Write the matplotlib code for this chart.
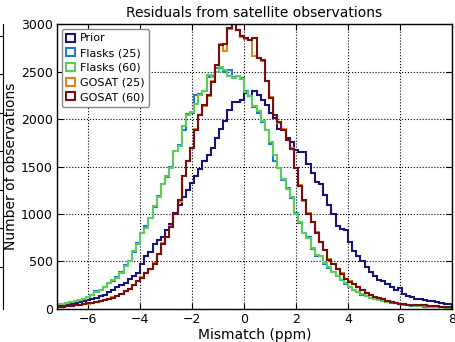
import numpy as np
import matplotlib
matplotlib.use('Agg')
import matplotlib.pyplot as plt

# bins: 0.16 ppm wide, from -7.2 to 8
edges = np.linspace(-7.2, 8.0, 96)
centers = 0.5 * (edges[:-1] + edges[1:])

prior = [40, 45, 50, 55, 60, 70, 80, 95, 105, 120,
         135, 150, 180, 200, 230, 250, 270, 320, 350, 380,
         470, 560, 600, 680, 730, 760, 830, 900, 1010, 1090,
         1180, 1250, 1330, 1400, 1470, 1560, 1620, 1700, 1800, 1900,
         1980, 2100, 2180, 2180, 2200, 2270, 2240, 2290, 2250, 2200,
         2150, 2060, 2010, 1900, 1880, 1800, 1760, 1675, 1650, 1650,
         1530, 1430, 1340, 1320, 1200, 1100, 1000, 870, 840, 830,
         700, 610, 560, 510, 440, 390, 345, 310, 295, 260,
         235, 200, 220, 160, 140, 125, 110, 100, 95, 85,
         80, 72, 65, 55, 50]

flasks25 = [48, 55, 60, 72, 85, 92, 100, 128, 150, 190,
            195, 235, 270, 295, 335, 385, 460, 510, 600, 690,
            800, 870, 960, 1070, 1190, 1320, 1390, 1490, 1660, 1730,
            1880, 2050, 2060, 2250, 2260, 2300, 2440, 2450, 2540, 2540,
            2500, 2520, 2440, 2450, 2430, 2300, 2240, 2130, 2060, 1970,
            1880, 1740, 1560, 1480, 1360, 1270, 1170, 1010, 910, 800,
            760, 630, 560, 560, 470, 430, 390, 345, 310, 260,
            230, 195, 175, 150, 135, 118, 105, 95, 82, 75,
            68, 60, 52, 45, 40, 36, 33, 30, 26, 24,
            22, 19, 17, 15, 13]

flasks60 = [50, 55, 62, 70, 85, 90, 100, 125, 150, 180,
            195, 230, 270, 300, 330, 380, 450, 510, 610, 680,
            800, 850, 960, 1080, 1180, 1320, 1400, 1480, 1660, 1720,
            1930, 2040, 2070, 2160, 2250, 2290, 2460, 2440, 2500, 2550,
            2520, 2450, 2430, 2450, 2420, 2280, 2240, 2140, 2080, 1980,
            1880, 1760, 1620, 1480, 1370, 1260, 1180, 1000, 920, 800,
            750, 640, 570, 560, 480, 440, 390, 350, 310, 270,
            230, 200, 175, 155, 140, 120, 110, 95, 85, 78,
            70, 62, 55, 45, 42, 38, 35, 30, 28, 25,
            22, 20, 18, 15, 14]

gosat25 = [22, 26, 30, 34, 40, 46, 50, 56, 66, 72,
           82, 95, 105, 122, 140, 160, 188, 210, 255, 290,
           335, 380, 425, 480, 580, 690, 760, 870, 1000, 1130,
           1400, 1560, 1700, 1890, 2040, 2140, 2240, 2400, 2570, 2790,
           2720, 2950, 3000, 2940, 2860, 2840, 2830, 2660, 2640, 2610,
           2400, 2230, 2040, 1960, 1890, 1780, 1690, 1480, 1310, 1140,
           1010, 920, 810, 700, 620, 530, 470, 420, 375, 320,
           290, 262, 230, 205, 170, 152, 128, 115, 102, 88,
           78, 66, 56, 50, 45, 42, 40, 38, 38, 33,
           30, 28, 25, 24, 22]

gosat60 = [22, 25, 30, 35, 40, 45, 50, 58, 65, 72,
           80, 95, 105, 120, 140, 160, 185, 210, 250, 290,
           330, 380, 420, 470, 580, 680, 760, 860, 1000, 1150,
           1400, 1560, 1690, 1880, 2040, 2150, 2250, 2390, 2570, 2780,
           2790, 2960, 3000, 2940, 2870, 2850, 2830, 2850, 2640, 2620,
           2400, 2220, 2040, 1970, 1885, 1780, 1680, 1480, 1300, 1150,
           1000, 920, 800, 700, 620, 520, 470, 420, 370, 320,
           285, 260, 230, 200, 170, 150, 125, 115, 100, 88,
           78, 65, 55, 50, 45, 42, 40, 40, 38, 35,
           30, 28, 25, 25, 22]

labels = ['Prior', 'Flasks (25)', 'Flasks (60)', 'GOSAT (25)', 'GOSAT (60)']
colors = ['#14147a', '#1f7ad8', '#5ccc5c', '#d8891a', '#7a0e0e']
series = [prior, flasks25, flasks60, gosat25, gosat60]

fig = plt.figure(figsize=(4.56, 3.42), dpi=100)

# edge of the neighbouring panel, cut off at the left border
axn = fig.add_axes([-0.2, 0.0965, 0.2055, 0.8333])
axn.set_ylim(-0.1, 7.3)
axn.set_xticks([])
axn.set_yticks(range(1, 8))
axn.yaxis.tick_right()
axn.tick_params(axis='y', direction='in', length=3, labelright=False)
for s in ['left', 'top', 'bottom']:
    axn.spines[s].set_visible(False)

ax = fig.add_axes([0.125, 0.0965, 0.866, 0.8333])
for vals, lab, col in zip(series, labels, colors):
    ax.hist(centers, bins=edges, weights=vals, histtype='step',
            color=col, lw=1.5, label=lab)

ax.set_xlim(-7.2, 8)
ax.set_ylim(0, 3000)
ax.set_xticks(np.arange(-6, 9, 2))
ax.set_yticks(np.arange(0, 3001, 500))
ax.grid(True, color='black', linestyle=':', linewidth=0.8)
ax.tick_params(direction='in', top=True, right=True, length=4, labelsize=9, pad=3)
for s in ax.spines.values():
    s.set_linewidth(1.0)

ax.set_title('Residuals from satellite observations', fontsize=10, pad=5)
ax.set_xlabel('Mismatch (ppm)', fontsize=10, labelpad=1)
ax.set_ylabel('Number of observations', fontsize=10, labelpad=2)

leg = ax.legend(loc='upper left', fontsize=8, handlelength=0.75, handleheight=0.75,
                handletextpad=0.45, labelspacing=0.42, borderpad=0.4,
                borderaxespad=0.45, framealpha=1, edgecolor='#888888', fancybox=True)

fig.savefig('out.png', dpi=100)
